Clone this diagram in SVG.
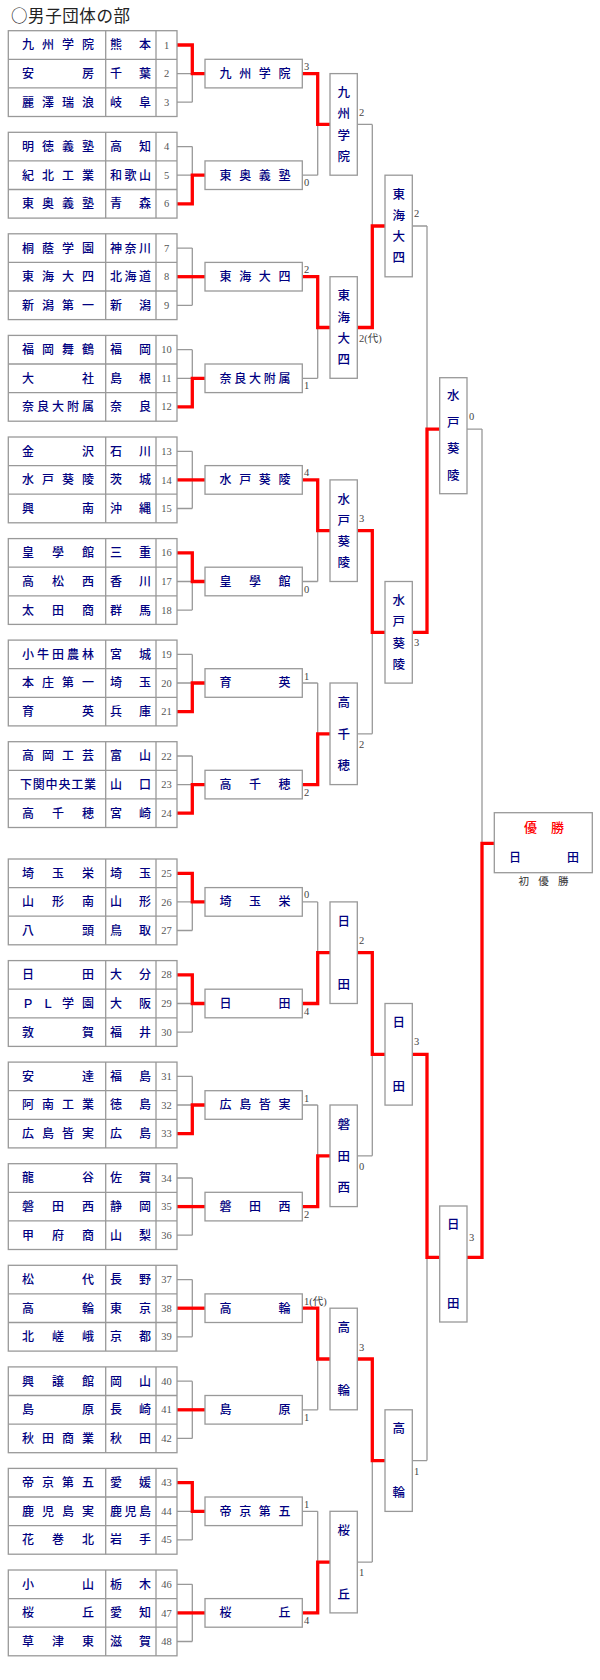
<svg xmlns="http://www.w3.org/2000/svg" width="600" height="1680" viewBox="0 0 600 1680">
<style>
.cell{fill:#fff;stroke:#999;stroke-width:1.3}
.grid{fill:none;stroke:#999;stroke-width:1.3}
.g{fill:none;stroke:#999;stroke-width:1.3}
.r{fill:none;stroke:#f00;stroke-width:3.3;stroke-linejoin:miter;stroke-linecap:butt}
.t{font-family:"Noto Sans CJK JP","Noto Sans CJK SC",sans-serif;font-size:12px;font-weight:500;fill:#000080}
.v{font-family:"Noto Sans CJK JP","Noto Sans CJK SC",sans-serif;font-size:12.5px;font-weight:500;fill:#000080;text-anchor:middle}
.num{font-family:"Liberation Serif","DejaVu Serif",serif;font-size:10.5px;fill:#555;text-anchor:middle}
.sc{font-family:"Liberation Serif","Noto Sans CJK JP",serif;font-size:10.5px;fill:#444}
</style>
<text x="11" y="22.3" style="font-family:'Noto Sans CJK JP',sans-serif;font-size:16.5px;fill:#222" textLength="119" lengthAdjust="spacing">○男子団体の部</text>

<g id="connectors">
<g transform="translate(0,30.7)"><path class="g" d="M177 14.3H192.3M177 42.9H205M177 71.5H192.3M192.3 14.3V71.5"/><path class="r" d="M177 14.3H192.3V42.9H205"/></g>
<g transform="translate(0,132.3)"><path class="g" d="M177 14.3H192.3M177 42.9H205M177 71.5H192.3M192.3 14.3V71.5"/><path class="r" d="M177 71.5H192.3V42.9H205"/></g>
<g transform="translate(0,233.8)"><path class="g" d="M177 14.3H192.3M177 42.9H205M177 71.5H192.3M192.3 14.3V71.5"/><path class="r" d="M177 42.9H205"/></g>
<g transform="translate(0,335.4)"><path class="g" d="M177 14.3H192.3M177 42.9H205M177 71.5H192.3M192.3 14.3V71.5"/><path class="r" d="M177 71.5H192.3V42.9H205"/></g>
<g transform="translate(0,437)"><path class="g" d="M177 14.3H192.3M177 42.9H205M177 71.5H192.3M192.3 14.3V71.5"/><path class="r" d="M177 42.9H205"/></g>
<g transform="translate(0,538.6)"><path class="g" d="M177 14.3H192.3M177 42.9H205M177 71.5H192.3M192.3 14.3V71.5"/><path class="r" d="M177 14.3H192.3V42.9H205"/></g>
<g transform="translate(0,640.1)"><path class="g" d="M177 14.3H192.3M177 42.9H205M177 71.5H192.3M192.3 14.3V71.5"/><path class="r" d="M177 71.5H192.3V42.9H205"/></g>
<g transform="translate(0,741.7)"><path class="g" d="M177 14.3H192.3M177 42.9H205M177 71.5H192.3M192.3 14.3V71.5"/><path class="r" d="M177 71.5H192.3V42.9H205"/></g>
<g transform="translate(0,859)"><path class="g" d="M177 14.3H192.3M177 42.9H205M177 71.5H192.3M192.3 14.3V71.5"/><path class="r" d="M177 14.3H192.3V42.9H205"/></g>
<g transform="translate(0,960.6)"><path class="g" d="M177 14.3H192.3M177 42.9H205M177 71.5H192.3M192.3 14.3V71.5"/><path class="r" d="M177 14.3H192.3V42.9H205"/></g>
<g transform="translate(0,1062.1)"><path class="g" d="M177 14.3H192.3M177 42.9H205M177 71.5H192.3M192.3 14.3V71.5"/><path class="r" d="M177 71.5H192.3V42.9H205"/></g>
<g transform="translate(0,1163.7)"><path class="g" d="M177 14.3H192.3M177 42.9H205M177 71.5H192.3M192.3 14.3V71.5"/><path class="r" d="M177 42.9H205"/></g>
<g transform="translate(0,1265.3)"><path class="g" d="M177 14.3H192.3M177 42.9H205M177 71.5H192.3M192.3 14.3V71.5"/><path class="r" d="M177 42.9H205"/></g>
<g transform="translate(0,1366.9)"><path class="g" d="M177 14.3H192.3M177 42.9H205M177 71.5H192.3M192.3 14.3V71.5"/><path class="r" d="M177 42.9H205"/></g>
<g transform="translate(0,1468.4)"><path class="g" d="M177 14.3H192.3M177 42.9H205M177 71.5H192.3M192.3 14.3V71.5"/><path class="r" d="M177 14.3H192.3V42.9H205"/></g>
<g transform="translate(0,1570)"><path class="g" d="M177 14.3H192.3M177 42.9H205M177 71.5H192.3M192.3 14.3V71.5"/><path class="r" d="M177 42.9H205"/></g>
<path class="g" d="M302.3 73.6H317.7M302.3 175.2H317.7M317.7 73.6V175.2M317.7 124.4H330"/><path class="r" d="M302.3 73.6H317.7V124.4H330"/>
<path class="g" d="M302.3 276.7H317.7M302.3 378.3H317.7M317.7 276.7V378.3M317.7 327.5H330"/><path class="r" d="M302.3 276.7H317.7V327.5H330"/>
<path class="g" d="M302.3 479.9H317.7M302.3 581.5H317.7M317.7 479.9V581.5M317.7 530.7H330"/><path class="r" d="M302.3 479.9H317.7V530.7H330"/>
<path class="g" d="M302.3 683H317.7M302.3 784.6H317.7M317.7 683V784.6M317.7 733.8H330"/><path class="r" d="M302.3 784.6H317.7V733.8H330"/>
<path class="g" d="M302.3 901.9H317.7M302.3 1003.5H317.7M317.7 901.9V1003.5M317.7 952.7H330"/><path class="r" d="M302.3 1003.5H317.7V952.7H330"/>
<path class="g" d="M302.3 1105H317.7M302.3 1206.6H317.7M317.7 1105V1206.6M317.7 1155.8H330"/><path class="r" d="M302.3 1206.6H317.7V1155.8H330"/>
<path class="g" d="M302.3 1308.2H317.7M302.3 1409.8H317.7M317.7 1308.2V1409.8M317.7 1359H330"/><path class="r" d="M302.3 1308.2H317.7V1359H330"/>
<path class="g" d="M302.3 1511.3H317.7M302.3 1612.9H317.7M317.7 1511.3V1612.9M317.7 1562.1H330"/><path class="r" d="M302.3 1612.9H317.7V1562.1H330"/>
<path class="g" d="M357.3 124.4H372.3M357.3 327.5H372.3M372.3 124.4V327.5M372.3 226H385"/><path class="r" d="M357.3 327.5H372.3V226H385"/>
<path class="g" d="M357.3 530.7H372.3M357.3 733.8H372.3M372.3 530.7V733.8M372.3 632.3H385"/><path class="r" d="M357.3 530.7H372.3V632.3H385"/>
<path class="g" d="M357.3 952.7H372.3M357.3 1155.8H372.3M372.3 952.7V1155.8M372.3 1054.3H385"/><path class="r" d="M357.3 952.7H372.3V1054.3H385"/>
<path class="g" d="M357.3 1359H372.3M357.3 1562.1H372.3M372.3 1359V1562.1M372.3 1460.6H385"/><path class="r" d="M357.3 1359H372.3V1460.6H385"/>
<path class="g" d="M412.3 226H427M412.3 632.3H427M427 226V632.3M427 429.1H439.7"/><path class="r" d="M412.3 632.3H427V429.1H439.7"/>
<path class="g" d="M412.3 1054.3H427M412.3 1460.6H427M427 1054.3V1460.6M427 1257.4H439.7"/><path class="r" d="M412.3 1054.3H427V1257.4H439.7"/>
<path class="g" d="M467 429.1H482M467 1257.4H482M482 429.1V1257.4M482 843.3H494.3"/><path class="r" d="M467 1257.4H482V843.3H494.3"/>
</g>

<g id="block1" transform="translate(0,30.7)"><rect class="cell" x="8.3" y="0" width="168.7" height="85.8"/><path class="grid" d="M105.7 0V85.8M156 0V85.8M8.3 28.6H177M8.3 57.2H177"/>
<text class="t" x="22" y="18.8" textLength="72" lengthAdjust="spacing">九州学院</text><text class="t" x="110" y="18.8" textLength="41" lengthAdjust="spacing">熊本</text><text class="num" x="166.5" y="17.9">1</text>
<text class="t" x="22" y="47.4" textLength="72" lengthAdjust="spacing">安房</text><text class="t" x="110" y="47.4" textLength="41" lengthAdjust="spacing">千葉</text><text class="num" x="166.5" y="46.5">2</text>
<text class="t" x="22" y="76" textLength="72" lengthAdjust="spacing">麗澤瑞浪</text><text class="t" x="110" y="76" textLength="41" lengthAdjust="spacing">岐阜</text><text class="num" x="166.5" y="75.1">3</text></g>
<g id="block2" transform="translate(0,132.3)"><rect class="cell" x="8.3" y="0" width="168.7" height="85.8"/><path class="grid" d="M105.7 0V85.8M156 0V85.8M8.3 28.6H177M8.3 57.2H177"/>
<text class="t" x="22" y="18.8" textLength="72" lengthAdjust="spacing">明徳義塾</text><text class="t" x="110" y="18.8" textLength="41" lengthAdjust="spacing">高知</text><text class="num" x="166.5" y="17.9">4</text>
<text class="t" x="22" y="47.4" textLength="72" lengthAdjust="spacing">紀北工業</text><text class="t" x="110" y="47.4" textLength="41" lengthAdjust="spacing">和歌山</text><text class="num" x="166.5" y="46.5">5</text>
<text class="t" x="22" y="76" textLength="72" lengthAdjust="spacing">東奥義塾</text><text class="t" x="110" y="76" textLength="41" lengthAdjust="spacing">青森</text><text class="num" x="166.5" y="75.1">6</text></g>
<g id="block3" transform="translate(0,233.8)"><rect class="cell" x="8.3" y="0" width="168.7" height="85.8"/><path class="grid" d="M105.7 0V85.8M156 0V85.8M8.3 28.6H177M8.3 57.2H177"/>
<text class="t" x="22" y="18.8" textLength="72" lengthAdjust="spacing">桐蔭学園</text><text class="t" x="110" y="18.8" textLength="41" lengthAdjust="spacing">神奈川</text><text class="num" x="166.5" y="17.9">7</text>
<text class="t" x="22" y="47.4" textLength="72" lengthAdjust="spacing">東海大四</text><text class="t" x="110" y="47.4" textLength="41" lengthAdjust="spacing">北海道</text><text class="num" x="166.5" y="46.5">8</text>
<text class="t" x="22" y="76" textLength="72" lengthAdjust="spacing">新潟第一</text><text class="t" x="110" y="76" textLength="41" lengthAdjust="spacing">新潟</text><text class="num" x="166.5" y="75.1">9</text></g>
<g id="block4" transform="translate(0,335.4)"><rect class="cell" x="8.3" y="0" width="168.7" height="85.8"/><path class="grid" d="M105.7 0V85.8M156 0V85.8M8.3 28.6H177M8.3 57.2H177"/>
<text class="t" x="22" y="18.8" textLength="72" lengthAdjust="spacing">福岡舞鶴</text><text class="t" x="110" y="18.8" textLength="41" lengthAdjust="spacing">福岡</text><text class="num" x="166.5" y="17.9">10</text>
<text class="t" x="22" y="47.4" textLength="72" lengthAdjust="spacing">大社</text><text class="t" x="110" y="47.4" textLength="41" lengthAdjust="spacing">島根</text><text class="num" x="166.5" y="46.5">11</text>
<text class="t" x="22" y="76" textLength="72" lengthAdjust="spacing">奈良大附属</text><text class="t" x="110" y="76" textLength="41" lengthAdjust="spacing">奈良</text><text class="num" x="166.5" y="75.1">12</text></g>
<g id="block5" transform="translate(0,437)"><rect class="cell" x="8.3" y="0" width="168.7" height="85.8"/><path class="grid" d="M105.7 0V85.8M156 0V85.8M8.3 28.6H177M8.3 57.2H177"/>
<text class="t" x="22" y="18.8" textLength="72" lengthAdjust="spacing">金沢</text><text class="t" x="110" y="18.8" textLength="41" lengthAdjust="spacing">石川</text><text class="num" x="166.5" y="17.9">13</text>
<text class="t" x="22" y="47.4" textLength="72" lengthAdjust="spacing">水戸葵陵</text><text class="t" x="110" y="47.4" textLength="41" lengthAdjust="spacing">茨城</text><text class="num" x="166.5" y="46.5">14</text>
<text class="t" x="22" y="76" textLength="72" lengthAdjust="spacing">興南</text><text class="t" x="110" y="76" textLength="41" lengthAdjust="spacing">沖縄</text><text class="num" x="166.5" y="75.1">15</text></g>
<g id="block6" transform="translate(0,538.6)"><rect class="cell" x="8.3" y="0" width="168.7" height="85.8"/><path class="grid" d="M105.7 0V85.8M156 0V85.8M8.3 28.6H177M8.3 57.2H177"/>
<text class="t" x="22" y="18.8" textLength="72" lengthAdjust="spacing">皇學館</text><text class="t" x="110" y="18.8" textLength="41" lengthAdjust="spacing">三重</text><text class="num" x="166.5" y="17.9">16</text>
<text class="t" x="22" y="47.4" textLength="72" lengthAdjust="spacing">高松西</text><text class="t" x="110" y="47.4" textLength="41" lengthAdjust="spacing">香川</text><text class="num" x="166.5" y="46.5">17</text>
<text class="t" x="22" y="76" textLength="72" lengthAdjust="spacing">太田商</text><text class="t" x="110" y="76" textLength="41" lengthAdjust="spacing">群馬</text><text class="num" x="166.5" y="75.1">18</text></g>
<g id="block7" transform="translate(0,640.1)"><rect class="cell" x="8.3" y="0" width="168.7" height="85.8"/><path class="grid" d="M105.7 0V85.8M156 0V85.8M8.3 28.6H177M8.3 57.2H177"/>
<text class="t" x="22" y="18.8" textLength="72" lengthAdjust="spacing">小牛田農林</text><text class="t" x="110" y="18.8" textLength="41" lengthAdjust="spacing">宮城</text><text class="num" x="166.5" y="17.9">19</text>
<text class="t" x="22" y="47.4" textLength="72" lengthAdjust="spacing">本庄第一</text><text class="t" x="110" y="47.4" textLength="41" lengthAdjust="spacing">埼玉</text><text class="num" x="166.5" y="46.5">20</text>
<text class="t" x="22" y="76" textLength="72" lengthAdjust="spacing">育英</text><text class="t" x="110" y="76" textLength="41" lengthAdjust="spacing">兵庫</text><text class="num" x="166.5" y="75.1">21</text></g>
<g id="block8" transform="translate(0,741.7)"><rect class="cell" x="8.3" y="0" width="168.7" height="85.8"/><path class="grid" d="M105.7 0V85.8M156 0V85.8M8.3 28.6H177M8.3 57.2H177"/>
<text class="t" x="22" y="18.8" textLength="72" lengthAdjust="spacing">高岡工芸</text><text class="t" x="110" y="18.8" textLength="41" lengthAdjust="spacing">富山</text><text class="num" x="166.5" y="17.9">22</text>
<text class="t" x="20" y="47.4" textLength="76" lengthAdjust="spacing">下関中央工業</text><text class="t" x="110" y="47.4" textLength="41" lengthAdjust="spacing">山口</text><text class="num" x="166.5" y="46.5">23</text>
<text class="t" x="22" y="76" textLength="72" lengthAdjust="spacing">高千穂</text><text class="t" x="110" y="76" textLength="41" lengthAdjust="spacing">宮崎</text><text class="num" x="166.5" y="75.1">24</text></g>
<g id="block9" transform="translate(0,859)"><rect class="cell" x="8.3" y="0" width="168.7" height="85.8"/><path class="grid" d="M105.7 0V85.8M156 0V85.8M8.3 28.6H177M8.3 57.2H177"/>
<text class="t" x="22" y="18.8" textLength="72" lengthAdjust="spacing">埼玉栄</text><text class="t" x="110" y="18.8" textLength="41" lengthAdjust="spacing">埼玉</text><text class="num" x="166.5" y="17.9">25</text>
<text class="t" x="22" y="47.4" textLength="72" lengthAdjust="spacing">山形南</text><text class="t" x="110" y="47.4" textLength="41" lengthAdjust="spacing">山形</text><text class="num" x="166.5" y="46.5">26</text>
<text class="t" x="22" y="76" textLength="72" lengthAdjust="spacing">八頭</text><text class="t" x="110" y="76" textLength="41" lengthAdjust="spacing">鳥取</text><text class="num" x="166.5" y="75.1">27</text></g>
<g id="block10" transform="translate(0,960.6)"><rect class="cell" x="8.3" y="0" width="168.7" height="85.8"/><path class="grid" d="M105.7 0V85.8M156 0V85.8M8.3 28.6H177M8.3 57.2H177"/>
<text class="t" x="22" y="18.8" textLength="72" lengthAdjust="spacing">日田</text><text class="t" x="110" y="18.8" textLength="41" lengthAdjust="spacing">大分</text><text class="num" x="166.5" y="17.9">28</text>
<text class="t" x="22" y="47.4" textLength="72" lengthAdjust="spacing">ＰＬ学園</text><text class="t" x="110" y="47.4" textLength="41" lengthAdjust="spacing">大阪</text><text class="num" x="166.5" y="46.5">29</text>
<text class="t" x="22" y="76" textLength="72" lengthAdjust="spacing">敦賀</text><text class="t" x="110" y="76" textLength="41" lengthAdjust="spacing">福井</text><text class="num" x="166.5" y="75.1">30</text></g>
<g id="block11" transform="translate(0,1062.1)"><rect class="cell" x="8.3" y="0" width="168.7" height="85.8"/><path class="grid" d="M105.7 0V85.8M156 0V85.8M8.3 28.6H177M8.3 57.2H177"/>
<text class="t" x="22" y="18.8" textLength="72" lengthAdjust="spacing">安達</text><text class="t" x="110" y="18.8" textLength="41" lengthAdjust="spacing">福島</text><text class="num" x="166.5" y="17.9">31</text>
<text class="t" x="22" y="47.4" textLength="72" lengthAdjust="spacing">阿南工業</text><text class="t" x="110" y="47.4" textLength="41" lengthAdjust="spacing">徳島</text><text class="num" x="166.5" y="46.5">32</text>
<text class="t" x="22" y="76" textLength="72" lengthAdjust="spacing">広島皆実</text><text class="t" x="110" y="76" textLength="41" lengthAdjust="spacing">広島</text><text class="num" x="166.5" y="75.1">33</text></g>
<g id="block12" transform="translate(0,1163.7)"><rect class="cell" x="8.3" y="0" width="168.7" height="85.8"/><path class="grid" d="M105.7 0V85.8M156 0V85.8M8.3 28.6H177M8.3 57.2H177"/>
<text class="t" x="22" y="18.8" textLength="72" lengthAdjust="spacing">龍谷</text><text class="t" x="110" y="18.8" textLength="41" lengthAdjust="spacing">佐賀</text><text class="num" x="166.5" y="17.9">34</text>
<text class="t" x="22" y="47.4" textLength="72" lengthAdjust="spacing">磐田西</text><text class="t" x="110" y="47.4" textLength="41" lengthAdjust="spacing">静岡</text><text class="num" x="166.5" y="46.5">35</text>
<text class="t" x="22" y="76" textLength="72" lengthAdjust="spacing">甲府商</text><text class="t" x="110" y="76" textLength="41" lengthAdjust="spacing">山梨</text><text class="num" x="166.5" y="75.1">36</text></g>
<g id="block13" transform="translate(0,1265.3)"><rect class="cell" x="8.3" y="0" width="168.7" height="85.8"/><path class="grid" d="M105.7 0V85.8M156 0V85.8M8.3 28.6H177M8.3 57.2H177"/>
<text class="t" x="22" y="18.8" textLength="72" lengthAdjust="spacing">松代</text><text class="t" x="110" y="18.8" textLength="41" lengthAdjust="spacing">長野</text><text class="num" x="166.5" y="17.9">37</text>
<text class="t" x="22" y="47.4" textLength="72" lengthAdjust="spacing">高輪</text><text class="t" x="110" y="47.4" textLength="41" lengthAdjust="spacing">東京</text><text class="num" x="166.5" y="46.5">38</text>
<text class="t" x="22" y="76" textLength="72" lengthAdjust="spacing">北嵯峨</text><text class="t" x="110" y="76" textLength="41" lengthAdjust="spacing">京都</text><text class="num" x="166.5" y="75.1">39</text></g>
<g id="block14" transform="translate(0,1366.9)"><rect class="cell" x="8.3" y="0" width="168.7" height="85.8"/><path class="grid" d="M105.7 0V85.8M156 0V85.8M8.3 28.6H177M8.3 57.2H177"/>
<text class="t" x="22" y="18.8" textLength="72" lengthAdjust="spacing">興譲館</text><text class="t" x="110" y="18.8" textLength="41" lengthAdjust="spacing">岡山</text><text class="num" x="166.5" y="17.9">40</text>
<text class="t" x="22" y="47.4" textLength="72" lengthAdjust="spacing">島原</text><text class="t" x="110" y="47.4" textLength="41" lengthAdjust="spacing">長崎</text><text class="num" x="166.5" y="46.5">41</text>
<text class="t" x="22" y="76" textLength="72" lengthAdjust="spacing">秋田商業</text><text class="t" x="110" y="76" textLength="41" lengthAdjust="spacing">秋田</text><text class="num" x="166.5" y="75.1">42</text></g>
<g id="block15" transform="translate(0,1468.4)"><rect class="cell" x="8.3" y="0" width="168.7" height="85.8"/><path class="grid" d="M105.7 0V85.8M156 0V85.8M8.3 28.6H177M8.3 57.2H177"/>
<text class="t" x="22" y="18.8" textLength="72" lengthAdjust="spacing">帝京第五</text><text class="t" x="110" y="18.8" textLength="41" lengthAdjust="spacing">愛媛</text><text class="num" x="166.5" y="17.9">43</text>
<text class="t" x="22" y="47.4" textLength="72" lengthAdjust="spacing">鹿児島実</text><text class="t" x="110" y="47.4" textLength="41" lengthAdjust="spacing">鹿児島</text><text class="num" x="166.5" y="46.5">44</text>
<text class="t" x="22" y="76" textLength="72" lengthAdjust="spacing">花巻北</text><text class="t" x="110" y="76" textLength="41" lengthAdjust="spacing">岩手</text><text class="num" x="166.5" y="75.1">45</text></g>
<g id="block16" transform="translate(0,1570)"><rect class="cell" x="8.3" y="0" width="168.7" height="85.8"/><path class="grid" d="M105.7 0V85.8M156 0V85.8M8.3 28.6H177M8.3 57.2H177"/>
<text class="t" x="22" y="18.8" textLength="72" lengthAdjust="spacing">小山</text><text class="t" x="110" y="18.8" textLength="41" lengthAdjust="spacing">栃木</text><text class="num" x="166.5" y="17.9">46</text>
<text class="t" x="22" y="47.4" textLength="72" lengthAdjust="spacing">桜丘</text><text class="t" x="110" y="47.4" textLength="41" lengthAdjust="spacing">愛知</text><text class="num" x="166.5" y="46.5">47</text>
<text class="t" x="22" y="76" textLength="72" lengthAdjust="spacing">草津東</text><text class="t" x="110" y="76" textLength="41" lengthAdjust="spacing">滋賀</text><text class="num" x="166.5" y="75.1">48</text></g>

<g id="r1-1" transform="translate(205,59.3)"><rect class="cell" width="97.3" height="28.6"/><text class="t" x="14.5" y="18.8" textLength="71" lengthAdjust="spacing">九州学院</text></g>
<g id="r1-2" transform="translate(205,160.9)"><rect class="cell" width="97.3" height="28.6"/><text class="t" x="14.5" y="18.8" textLength="71" lengthAdjust="spacing">東奥義塾</text></g>
<g id="r1-3" transform="translate(205,262.4)"><rect class="cell" width="97.3" height="28.6"/><text class="t" x="14.5" y="18.8" textLength="71" lengthAdjust="spacing">東海大四</text></g>
<g id="r1-4" transform="translate(205,364)"><rect class="cell" width="97.3" height="28.6"/><text class="t" x="14.5" y="18.8" textLength="71" lengthAdjust="spacing">奈良大附属</text></g>
<g id="r1-5" transform="translate(205,465.6)"><rect class="cell" width="97.3" height="28.6"/><text class="t" x="14.5" y="18.8" textLength="71" lengthAdjust="spacing">水戸葵陵</text></g>
<g id="r1-6" transform="translate(205,567.2)"><rect class="cell" width="97.3" height="28.6"/><text class="t" x="14.5" y="18.8" textLength="71" lengthAdjust="spacing">皇學館</text></g>
<g id="r1-7" transform="translate(205,668.7)"><rect class="cell" width="97.3" height="28.6"/><text class="t" x="14.5" y="18.8" textLength="71" lengthAdjust="spacing">育英</text></g>
<g id="r1-8" transform="translate(205,770.3)"><rect class="cell" width="97.3" height="28.6"/><text class="t" x="14.5" y="18.8" textLength="71" lengthAdjust="spacing">高千穂</text></g>
<g id="r1-9" transform="translate(205,887.6)"><rect class="cell" width="97.3" height="28.6"/><text class="t" x="14.5" y="18.8" textLength="71" lengthAdjust="spacing">埼玉栄</text></g>
<g id="r1-10" transform="translate(205,989.2)"><rect class="cell" width="97.3" height="28.6"/><text class="t" x="14.5" y="18.8" textLength="71" lengthAdjust="spacing">日田</text></g>
<g id="r1-11" transform="translate(205,1090.7)"><rect class="cell" width="97.3" height="28.6"/><text class="t" x="14.5" y="18.8" textLength="71" lengthAdjust="spacing">広島皆実</text></g>
<g id="r1-12" transform="translate(205,1192.3)"><rect class="cell" width="97.3" height="28.6"/><text class="t" x="14.5" y="18.8" textLength="71" lengthAdjust="spacing">磐田西</text></g>
<g id="r1-13" transform="translate(205,1293.9)"><rect class="cell" width="97.3" height="28.6"/><text class="t" x="14.5" y="18.8" textLength="71" lengthAdjust="spacing">高輪</text></g>
<g id="r1-14" transform="translate(205,1395.5)"><rect class="cell" width="97.3" height="28.6"/><text class="t" x="14.5" y="18.8" textLength="71" lengthAdjust="spacing">島原</text></g>
<g id="r1-15" transform="translate(205,1497)"><rect class="cell" width="97.3" height="28.6"/><text class="t" x="14.5" y="18.8" textLength="71" lengthAdjust="spacing">帝京第五</text></g>
<g id="r1-16" transform="translate(205,1598.6)"><rect class="cell" width="97.3" height="28.6"/><text class="t" x="14.5" y="18.8" textLength="71" lengthAdjust="spacing">桜丘</text></g>

<g id="r2-1" transform="translate(330,73.6)"><rect class="cell" width="27.3" height="101.6"/><text class="v"><tspan x="13.65" y="23.7">九</tspan><tspan x="13.65" y="44.9">州</tspan><tspan x="13.65" y="66.1">学</tspan><tspan x="13.65" y="87.3">院</tspan></text></g>
<g id="r2-2" transform="translate(330,276.7)"><rect class="cell" width="27.3" height="101.6"/><text class="v"><tspan x="13.65" y="23.7">東</tspan><tspan x="13.65" y="44.9">海</tspan><tspan x="13.65" y="66.1">大</tspan><tspan x="13.65" y="87.3">四</tspan></text></g>
<g id="r2-3" transform="translate(330,479.9)"><rect class="cell" width="27.3" height="101.6"/><text class="v"><tspan x="13.65" y="23.7">水</tspan><tspan x="13.65" y="44.9">戸</tspan><tspan x="13.65" y="66.1">葵</tspan><tspan x="13.65" y="87.3">陵</tspan></text></g>
<g id="r2-4" transform="translate(330,683)"><rect class="cell" width="27.3" height="101.6"/><text class="v"><tspan x="13.65" y="23.7">高</tspan><tspan x="13.65" y="55.5">千</tspan><tspan x="13.65" y="87.3">穂</tspan></text></g>
<g id="r2-5" transform="translate(330,901.9)"><rect class="cell" width="27.3" height="101.6"/><text class="v"><tspan x="13.65" y="23.7">日</tspan><tspan x="13.65" y="87.3">田</tspan></text></g>
<g id="r2-6" transform="translate(330,1105)"><rect class="cell" width="27.3" height="101.6"/><text class="v"><tspan x="13.65" y="23.7">磐</tspan><tspan x="13.65" y="55.5">田</tspan><tspan x="13.65" y="87.3">西</tspan></text></g>
<g id="r2-7" transform="translate(330,1308.2)"><rect class="cell" width="27.3" height="101.6"/><text class="v"><tspan x="13.65" y="23.7">高</tspan><tspan x="13.65" y="87.3">輪</tspan></text></g>
<g id="r2-8" transform="translate(330,1511.3)"><rect class="cell" width="27.3" height="101.6"/><text class="v"><tspan x="13.65" y="23.7">桜</tspan><tspan x="13.65" y="87.3">丘</tspan></text></g>

<g id="r3-1" transform="translate(385,175.2)"><rect class="cell" width="27.3" height="101.6"/><text class="v"><tspan x="13.65" y="23.7">東</tspan><tspan x="13.65" y="44.9">海</tspan><tspan x="13.65" y="66.1">大</tspan><tspan x="13.65" y="87.3">四</tspan></text></g>
<g id="r3-2" transform="translate(385,581.5)"><rect class="cell" width="27.3" height="101.6"/><text class="v"><tspan x="13.65" y="23.7">水</tspan><tspan x="13.65" y="44.9">戸</tspan><tspan x="13.65" y="66.1">葵</tspan><tspan x="13.65" y="87.3">陵</tspan></text></g>
<g id="r3-3" transform="translate(385,1003.5)"><rect class="cell" width="27.3" height="101.6"/><text class="v"><tspan x="13.65" y="23.7">日</tspan><tspan x="13.65" y="87.3">田</tspan></text></g>
<g id="r3-4" transform="translate(385,1409.8)"><rect class="cell" width="27.3" height="101.6"/><text class="v"><tspan x="13.65" y="23.7">高</tspan><tspan x="13.65" y="87.3">輪</tspan></text></g>

<g id="r4-1" transform="translate(439.7,377.7)"><rect class="cell" width="27.3" height="116"/><text class="v"><tspan x="13.65" y="22.7">水</tspan><tspan x="13.65" y="49.2">戸</tspan><tspan x="13.65" y="75.6">葵</tspan><tspan x="13.65" y="102.1">陵</tspan></text></g>
<g id="r4-2" transform="translate(439.7,1206)"><rect class="cell" width="27.3" height="116"/><text class="v"><tspan x="13.65" y="22.7">日</tspan><tspan x="13.65" y="102.1">田</tspan></text></g>

<g id="champion"><rect class="cell" x="494.3" y="812.7" width="98" height="60"/>
<text x="524" y="832.2" style="font-family:'Noto Sans CJK JP',sans-serif;font-size:13px;font-weight:500;fill:#f00" textLength="40" lengthAdjust="spacing">優勝</text>
<text class="t" x="509" y="862.3" textLength="70" lengthAdjust="spacing">日田</text>
<text x="518.5" y="884.7" style="font-family:'Noto Sans CJK JP',sans-serif;font-size:10.5px;fill:#333" textLength="50" lengthAdjust="spacing">初優勝</text></g>

<g id="scores">
<text class="sc" x="304" y="70.1">3</text><text class="sc" x="304" y="186.2">0</text>
<text class="sc" x="304" y="273.2">2</text><text class="sc" x="304" y="389.3">1</text>
<text class="sc" x="304" y="476.4">4</text><text class="sc" x="304" y="592.5">0</text>
<text class="sc" x="304" y="679.5">1</text><text class="sc" x="304" y="795.6">2</text>
<text class="sc" x="304" y="898.4">0</text><text class="sc" x="304" y="1014.5">4</text>
<text class="sc" x="304" y="1101.5">1</text><text class="sc" x="304" y="1217.6">2</text>
<text class="sc" x="304" y="1304.7">1(代)</text><text class="sc" x="304" y="1420.8">1</text>
<text class="sc" x="304" y="1507.8">1</text><text class="sc" x="304" y="1623.9">4</text>
<text class="sc" x="359" y="115.9">2</text><text class="sc" x="359" y="341.5">2(代)</text>
<text class="sc" x="359" y="522.2">3</text><text class="sc" x="359" y="747.8">2</text>
<text class="sc" x="359" y="944.2">2</text><text class="sc" x="359" y="1169.8">0</text>
<text class="sc" x="359" y="1350.5">3</text><text class="sc" x="359" y="1576.1">1</text>
<text class="sc" x="414" y="217">2</text><text class="sc" x="414" y="646.3">3</text>
<text class="sc" x="414" y="1045.3">3</text><text class="sc" x="414" y="1474.6">1</text>
<text class="sc" x="469" y="420.1">0</text><text class="sc" x="469" y="1241">3</text>
</g>
</svg>
